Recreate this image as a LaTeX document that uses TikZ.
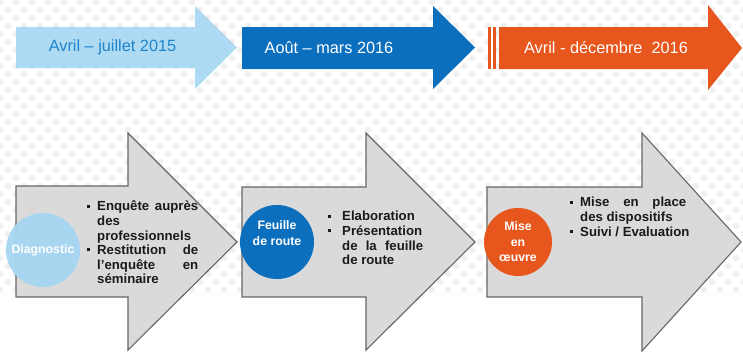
\documentclass[tikz,border=0pt]{standalone}
\usepackage{fontspec}
\setmainfont{Liberation Sans}
\definecolor{paleblue}{HTML}{A6D6F3}
\definecolor{palebluetext}{HTML}{1E84CB}
\definecolor{midblue}{HTML}{0B6FBE}
\definecolor{rust}{HTML}{E7561D}
\definecolor{arrowgray}{HTML}{D6D6D6}
\definecolor{edgegray}{HTML}{666666}
\definecolor{dotgray}{HTML}{F0F0F0}
\definecolor{bodytext}{HTML}{1A1A1A}

% one bulleted paragraph with a hanging indent
\newcommand{\bulletline}[2]{\par\noindent\hangindent=#1\hangafter=1
  \makebox[#1][l]{\raisebox{3.2pt}{\rule{3pt}{3pt}}}\strut#2\par}

\tikzset{
  steparrow/.style={fill=arrowgray, fill opacity=0.88, draw=edgegray, line width=1.1pt, line join=miter},
  period/.style={font=\fontsize{16.3}{19}\selectfont, inner sep=0pt},
  badge/.style={circle, minimum size=#1, inner sep=0pt, text=white, align=center,
    font=\fontsize{12.3}{15.5}\selectfont\bfseries},
  bullets/.style={anchor=north west, inner sep=0pt, text width=#1, text=bodytext, align=justify,
    font=\fontsize{13.2}{14.6}\selectfont\bfseries}
}

\begin{document}
\begin{tikzpicture}[x=1pt, y=-1pt]
\useasboundingbox (0,0) rectangle (743,356);
\clip (0,0) rectangle (743,356);
\fill[white] (0,0) rectangle (743,356);

% dotted backdrop
\foreach \r in {0,...,36}{
  \foreach \c in {0,...,47}{
    \fill[dotgray] ({\c*16 + mod(\r,2)*8}, {\r*8 + 2}) circle (3.2);
  }
}

% period arrows along the top
\fill[paleblue, fill opacity=0.9] (16,27) -- (195,27) -- (195,6) -- (237,47.5)
  -- (195,89) -- (195,68) -- (16,68) -- cycle;
\fill[midblue] (242,27) -- (433,27) -- (433,6) -- (475,47.5)
  -- (433,89) -- (433,69) -- (242,69) -- cycle;
\fill[rust] (488,27) rectangle (491,69);
\fill[rust] (493,27) rectangle (496,69);
\fill[rust] (499,27) -- (708,27) -- (708,5) -- (742,48)
  -- (708,90) -- (708,69) -- (499,69) -- cycle;

\node[period, text=palebluetext] (p1) at (112.5,47) {Avril -- juillet 2015};
\node[period, text=white] (p2) at (329,48) {Août -- mars 2016};
\node[period, text=white] (p3) at (606,48) {Avril - décembre~~2016};

% step arrows
\draw[steparrow] (16,186) -- (128,186) -- (128,133) -- (237,242)
  -- (128,350) -- (128,297) -- (16,297) -- cycle;
\draw[steparrow] (242,187) -- (366,187) -- (366,133) -- (475,242)
  -- (366,350) -- (366,297) -- (242,297) -- cycle;
\draw[steparrow] (487,187) -- (642,187) -- (642,133) -- (741,242)
  -- (642,351) -- (642,297) -- (487,297) -- cycle;

% step badges
\node[badge=74pt, fill=paleblue, fill opacity=0.95, text opacity=1] (s1) at (43,250) {Diagnostic};
\node[badge=74pt, fill=midblue] (s2) at (277,242) {Feuille\\de route\\[-2pt]\strut};
\node[badge=68pt, fill=rust] (s3) at (518,242) {Mise\\en\\œuvre};

% step contents
\node[bullets=111pt] (b1) at (87,196) {\hyphenpenalty=10000\tolerance=10000
  \bulletline{10pt}{Enquête auprès\linebreak des\newline professionnels}
  \bulletline{10pt}{Restitution de\linebreak l'enquête en\linebreak séminaire}};
\node[bullets=95pt] (b2) at (328,206) {\hyphenpenalty=10000\tolerance=10000
  \bulletline{14pt}{Elaboration}
  \bulletline{14pt}{Présentation\linebreak de la feuille\linebreak de route}};
\node[bullets=116pt] (b3) at (570,192) {\hyphenpenalty=10000\tolerance=10000
  \bulletline{10pt}{Mise en place\linebreak des dispositifs}
  \bulletline{10pt}{\mbox{Suivi / Evaluation}}};
\end{tikzpicture}
\end{document}
